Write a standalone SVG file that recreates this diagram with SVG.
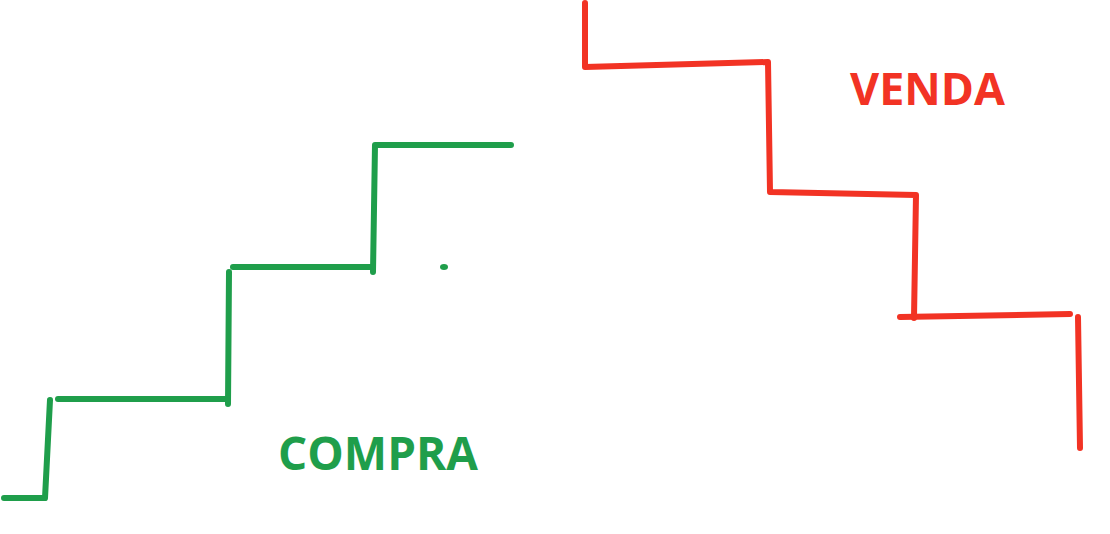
<svg xmlns="http://www.w3.org/2000/svg" width="1110" height="534" viewBox="0 0 1110 534">
<style>
.g{fill:none;stroke:#1f9e4b;stroke-width:6;stroke-linecap:round;stroke-linejoin:round}
.r{fill:none;stroke:#f23324;stroke-width:6;stroke-linecap:round;stroke-linejoin:round}
.t{font-family:"Open Sans","Liberation Sans",sans-serif;font-weight:bold}
</style>
<rect width="1110" height="534" fill="#ffffff"/>
<g id="compra-steps">
<path class="g" d="M4 498 L45 498 L50 400"/>
<path class="g" d="M58 399 L228 399"/>
<path class="g" d="M228 404 L229 272"/>
<path class="g" d="M233 267 L372 267"/>
<path class="g" d="M373 272 L375 145 L511 145"/>
<ellipse cx="444" cy="267" rx="4" ry="3" fill="#1f9e4b"/>
</g>
<g id="venda-steps">
<path class="r" d="M585 3 L585 67 L768 62 L770 192 L916 195 L914 318"/>
<path class="r" d="M900 317 L1070 314"/>
<path class="r" d="M1078 317 L1080 448"/>
</g>
<text id="compra" class="t" x="278" y="470" font-size="46" fill="#1f9e4b" textLength="200" lengthAdjust="spacingAndGlyphs">COMPRA</text>
<text id="venda" class="t" x="850" y="105" font-size="45" fill="#f23324" textLength="155" lengthAdjust="spacingAndGlyphs">VENDA</text>
</svg>
